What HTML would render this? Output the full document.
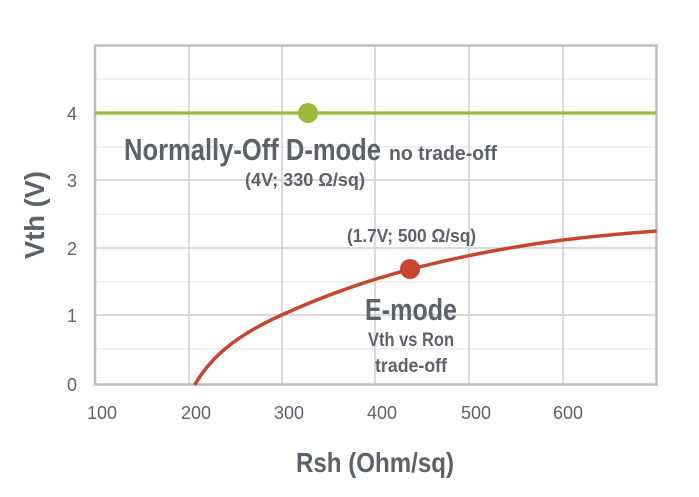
<!DOCTYPE html>
<html><head><style>body{margin:0;background:#fff}svg{display:block}</style></head><body>
<svg width="699" height="497" viewBox="0 0 699 497" xmlns="http://www.w3.org/2000/svg" font-family="Liberation Sans, sans-serif" fill="#5d6268">
<rect x="0" y="0" width="699" height="497" fill="#fff"/>
<g stroke="#e6e6e6" stroke-width="1.2">
<line x1="95" y1="79" x2="656" y2="79"/><line x1="95" y1="147" x2="656" y2="147"/><line x1="95" y1="214" x2="656" y2="214"/><line x1="95" y1="282" x2="656" y2="282"/><line x1="95" y1="349" x2="656" y2="349"/>
</g>
<g stroke="#cfcfcf" stroke-width="1.5">
<line x1="189" y1="46" x2="189" y2="384"/><line x1="282" y1="46" x2="282" y2="384"/><line x1="375" y1="46" x2="375" y2="384"/><line x1="469" y1="46" x2="469" y2="384"/><line x1="563" y1="46" x2="563" y2="384"/>
<line x1="95" y1="180" x2="656" y2="180"/><line x1="95" y1="248" x2="656" y2="248"/><line x1="95" y1="315" x2="656" y2="315"/>
</g>
<rect x="95" y="45.5" width="561.5" height="339" fill="none" stroke="#bdbdbd" stroke-width="2.5"/>
<line x1="95" y1="113" x2="656" y2="113" stroke="#99bb3a" stroke-width="3.2"/>
<circle cx="308" cy="113" r="10" fill="#99bb3a"/>
<path d="M194.7,385 C210,358 235,336 281.6,315 C330,293 370,280 410,269.3 C450,259 500,248 562.9,240 C600,235.5 630,233 656.7,231" fill="none" stroke="#c8452f" stroke-width="3.5"/>
<circle cx="410" cy="269" r="10" fill="#c8452f"/>
<g font-size="18" text-anchor="middle">
<text x="72" y="120">4</text><text x="72" y="187">3</text><text x="72" y="255">2</text><text x="72" y="322">1</text><text x="72" y="391">0</text>
<text x="102" y="419" textLength="30" lengthAdjust="spacingAndGlyphs">100</text><text x="196" y="419" textLength="30" lengthAdjust="spacingAndGlyphs">200</text><text x="289" y="419" textLength="30" lengthAdjust="spacingAndGlyphs">300</text><text x="382" y="419" textLength="30" lengthAdjust="spacingAndGlyphs">400</text><text x="476" y="419" textLength="30" lengthAdjust="spacingAndGlyphs">500</text><text x="568" y="419" textLength="30" lengthAdjust="spacingAndGlyphs">600</text>
</g>
<text x="0" y="0" font-size="28" font-weight="bold" text-anchor="middle" transform="translate(44,215) rotate(-90)" textLength="88" lengthAdjust="spacingAndGlyphs">Vth (V)</text>
<text x="375" y="472" font-size="28" font-weight="bold" text-anchor="middle" textLength="158" lengthAdjust="spacingAndGlyphs">Rsh (Ohm/sq)</text>
<text x="124" y="160" font-size="31" font-weight="bold" textLength="257" lengthAdjust="spacingAndGlyphs">Normally-Off D-mode</text>
<text x="389" y="160" font-size="20" font-weight="bold" textLength="108" lengthAdjust="spacingAndGlyphs">no trade-off</text>
<text x="245" y="186" font-size="18" font-weight="bold" textLength="120" lengthAdjust="spacingAndGlyphs">(4V; 330 Ω/sq)</text>
<text x="347" y="242" font-size="18" font-weight="bold" textLength="129" lengthAdjust="spacingAndGlyphs">(1.7V; 500 Ω/sq)</text>
<text x="411" y="320" font-size="31" font-weight="bold" text-anchor="middle" textLength="92" lengthAdjust="spacingAndGlyphs">E-mode</text>
<text x="411" y="346" font-size="19" font-weight="bold" text-anchor="middle" textLength="86" lengthAdjust="spacingAndGlyphs">Vth vs Ron</text>
<text x="411" y="372" font-size="19" font-weight="bold" text-anchor="middle" textLength="72" lengthAdjust="spacingAndGlyphs">trade-off</text>
</svg>
</body></html>
